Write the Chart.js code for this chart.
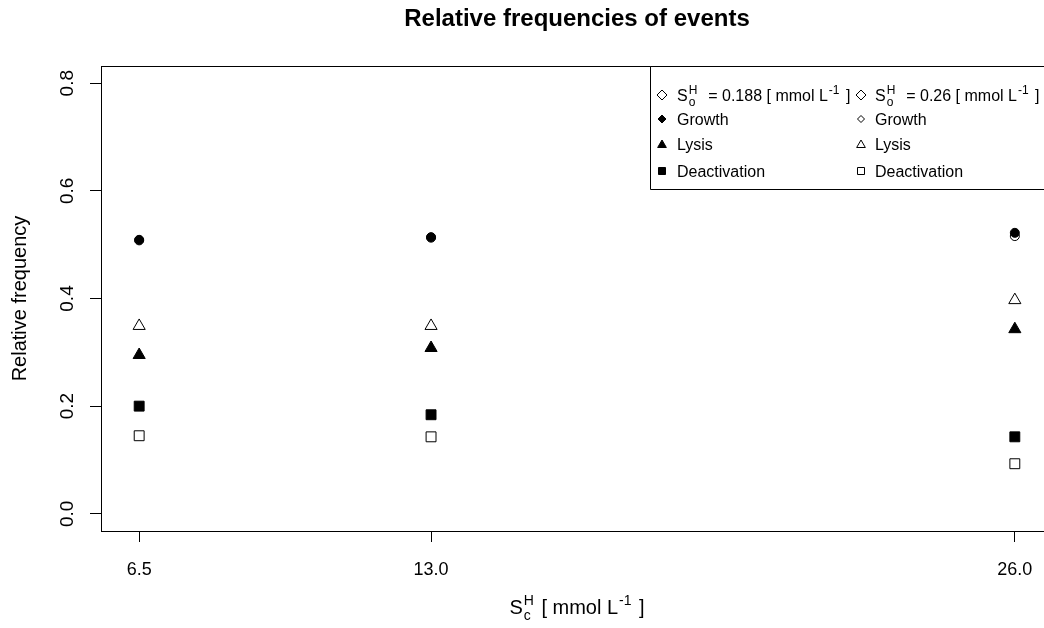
<!DOCTYPE html>
<html>
<head>
<meta charset="utf-8">
<script src="https://cdn.jsdelivr.net/npm/chart.js@4/dist/chart.umd.min.js"></script>
<style>
  html, body { margin: 0; padding: 0; background: #fff; overflow: hidden; }
  #freqChart { display: block; }
</style>
</head>
<body>
<canvas id="freqChart" width="1053" height="628"></canvas>
<script>
// ---- data -------------------------------------------------
const xValues = [6.5, 13.0, 26.0];            // S_c^H [mmol/L]
const yTicks = [0, 0.2, 0.4, 0.6, 0.8];

// S_o^H = 0.188 (filled symbols)
const growthLow = [0.509, 0.514, 0.522];
const lysisLow  = [0.295, 0.308, 0.343];
const deactLow  = [0.200, 0.184, 0.143];

// S_o^H = 0.26 (open symbols)
const growthHigh = [0.508, 0.513, 0.516];
const lysisHigh  = [0.349, 0.349, 0.397];
const deactHigh  = [0.145, 0.143, 0.093];

const FONT = '"Liberation Sans", Arial, sans-serif';

const pts = ys => xValues.map((x, i) => ({ x, y: ys[i] }));

function series(label, ys, style, r, filled) {
  return {
    label,
    data: pts(ys),
    pointStyle: style,
    pointRadius: r,
    pointHoverRadius: r,
    borderWidth: 1,
    pointBorderColor: '#000',
    pointBackgroundColor: filled ? '#000' : '#fff',
    showLine: false,
  };
}

// text with sub/superscripts, y is the baseline
function drawRich(ctx, parts, x, y, size) {
  let cx = x;
  for (const p of parts) {
    if (typeof p === 'string') {
      ctx.font = size + 'px ' + FONT;
      ctx.fillText(p, cx, y);
      cx += ctx.measureText(p).width;
    } else {
      ctx.font = Math.round(size * 0.72) + 'px ' + FONT;
      let w = 0;
      if (p.sup) { ctx.fillText(p.sup, cx + 1, y - size * 0.45); w = Math.max(w, ctx.measureText(p.sup).width); }
      if (p.sub) { ctx.fillText(p.sub, cx + 1, y + size * 0.32); w = Math.max(w, ctx.measureText(p.sub).width); }
      cx += w + 3;
    }
  }
  return cx - x;
}

function richWidth(ctx, parts, size) {
  ctx.save();
  ctx.globalAlpha = 0;
  const w = drawRich(ctx, parts, 0, -100, size);
  ctx.restore();
  return w;
}

function symbol(ctx, kind, x, y, r, filled) {
  ctx.beginPath();
  if (kind === 'diamond') {
    ctx.moveTo(x, y - r); ctx.lineTo(x + r, y); ctx.lineTo(x, y + r); ctx.lineTo(x - r, y); ctx.closePath();
  } else if (kind === 'triangle') {
    ctx.moveTo(x, y - r); ctx.lineTo(x + r * 0.87, y + r / 2); ctx.lineTo(x - r * 0.87, y + r / 2); ctx.closePath();
  } else {
    ctx.rect(x - r * 0.7, y - r * 0.7, r * 1.4, r * 1.4);
  }
  ctx.fillStyle = filled ? '#000' : '#fff';
  ctx.fill();
  ctx.strokeStyle = '#000';
  ctx.lineWidth = 1;
  ctx.stroke();
}

// frame, title, y tick labels, x title and the legend (R style)
const decorations = {
  id: 'decorations',
  afterDraw(chart) {
    const ctx = chart.ctx;
    const a = chart.chartArea;
    const yScale = chart.scales.y;
    ctx.save();
    ctx.fillStyle = '#000';
    ctx.strokeStyle = '#000';
    ctx.lineWidth = 1;
    ctx.strokeRect(Math.round(a.left) + 0.5, Math.round(a.top) + 0.5,
                   Math.round(a.right - a.left), Math.round(a.bottom - a.top));

    // title
    ctx.font = 'bold 24px ' + FONT;
    ctx.textAlign = 'center';
    ctx.textBaseline = 'middle';
    ctx.fillText('Relative frequencies of events', (a.left + a.right) / 2, 19);

    // y tick labels, rotated like R
    ctx.font = '19px ' + FONT;
    yTicks.forEach(v => {
      ctx.save();
      ctx.translate(68, yScale.getPixelForValue(v));
      ctx.rotate(-Math.PI / 2);
      ctx.fillText(v.toFixed(1), 0, 0);
      ctx.restore();
    });

    // x title
    ctx.textAlign = 'left';
    ctx.textBaseline = 'alphabetic';
    const xt = ['S', { sup: 'H', sub: 'c' }, ' [ mmol L', { sup: '-1' }, ' ]'];
    const w = richWidth(ctx, xt, 20);
    drawRich(ctx, xt, (a.left + a.right) / 2 - w / 2, 614, 20);

    // legend
    const lx = 650, ly = Math.round(a.top) + 0.5;
    ctx.beginPath();
    ctx.rect(lx + 0.5, ly, 500, 123);
    ctx.fillStyle = '#fff';
    ctx.fill();
    ctx.stroke();
    ctx.fillStyle = '#000';
    const cols = [
      { sx: 662, tx: 677, conc: '0.188', filled: true },
      { sx: 861, tx: 875, conc: '0.26', filled: false },
    ];
    cols.forEach(c => {
      symbol(ctx, 'diamond', c.sx, 95, 5, false);
      ctx.fillStyle = '#000';
      drawRich(ctx, ['S', { sup: 'H', sub: 'o' }, '  = ' + c.conc + ' [ mmol L', { sup: '-1' }, ' ]'], c.tx, 101, 16);
      symbol(ctx, 'diamond', c.sx, 119, c.filled ? 4 : 3.5, c.filled);
      symbol(ctx, 'triangle', c.sx, 145, 5, c.filled);
      symbol(ctx, 'square', c.sx, 171, 5, c.filled);
      ctx.fillStyle = '#000';
      ctx.font = '16px ' + FONT;
      ctx.fillText('Growth', c.tx, 125);
      ctx.fillText('Lysis', c.tx, 150);
      ctx.fillText('Deactivation', c.tx, 177);
    });
    ctx.restore();
  },
};

new Chart(document.getElementById('freqChart').getContext('2d'), {
  type: 'scatter',
  data: {
    datasets: [
      series('Growth (0.188)', growthLow, 'circle', 4.5, true),
      series('Lysis (0.188)', lysisLow, 'triangle', 7, true),
      series('Deactivation (0.188)', deactLow, 'rect', 7, true),
      series('Growth (0.26)', growthHigh, 'circle', 4.5, false),
      series('Lysis (0.26)', lysisHigh, 'triangle', 7, false),
      series('Deactivation (0.26)', deactHigh, 'rect', 7, false),
    ],
  },
  options: {
    responsive: false,
    animation: false,
    events: [],
    layout: { autoPadding: false, padding: { top: 66, right: 0, left: 0, bottom: 0 } },
    plugins: {
      legend: { display: false },
      tooltip: { enabled: false },
    },
    scales: {
      x: {
        type: 'linear',
        min: 5.65,
        max: 26.85,
        afterBuildTicks: s => { s.ticks = xValues.map(v => ({ value: v })); },
        afterFit: s => { s.height = 97; },
        ticks: {
          color: '#000',
          font: { family: FONT, size: 18 },
          padding: 17,
          maxRotation: 0,
          callback: v => Number(v).toFixed(1),
        },
        grid: { drawOnChartArea: false, color: '#000', tickLength: 11 },
        border: { display: true, color: '#000' },
      },
      y: {
        min: -0.032,
        max: 0.832,
        afterBuildTicks: s => { s.ticks = yTicks.map(v => ({ value: v })); },
        afterFit: s => { s.width = 101; },
        ticks: { display: false },
        grid: { drawOnChartArea: false, color: '#000', tickLength: 11 },
        border: { display: true, color: '#000' },
        title: {
          display: true,
          text: 'Relative frequency',
          color: '#000',
          font: { family: FONT, size: 20 },
          padding: { top: 8, bottom: 0 },
        },
      },
    },
  },
  plugins: [decorations],
});
</script>
</body>
</html>
